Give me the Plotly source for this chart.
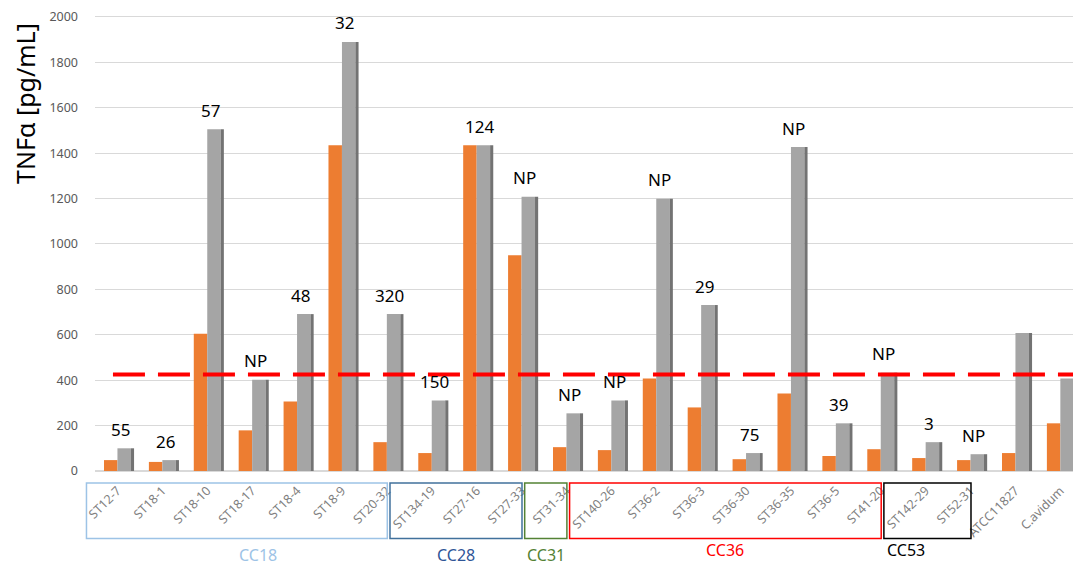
import plotly.graph_objects as go

# ---------------- data ----------------
categories = ["ST12-7", "ST18-1", "ST18-10", "ST18-17", "ST18-4", "ST18-9", "ST20-32",
              "ST134-19", "ST27-16", "ST27-33", "ST31-34", "ST140-26", "ST36-2", "ST36-3",
              "ST36-30", "ST36-35", "ST36-5", "ST41-20", "ST142-29", "ST52-31",
              "ATCC11827", "C.avidum"]
orange_values = [48, 40, 604, 179, 306, 1435, 127, 79, 1435, 950, 105, 92, 407, 280,
                 52, 341, 66, 96, 57, 48, 79, 210]
gray_values = [100, 48, 1505, 402, 691, 1890, 691, 311, 1435, 1208, 254, 311, 1199, 731,
               79, 1427, 210, 433, 127, 74, 608, 407]
bar_labels = ["55", "26", "57", "NP", "48", "32", "320", "150", "124", "NP", "NP", "NP",
              "NP", "29", "75", "NP", "39", "NP", "3", "NP", "", ""]
threshold = 425
y_ticks = [0, 200, 400, 600, 800, 1000, 1200, 1400, 1600, 1800, 2000]
groups = [  # name, first category, last category, colour
    ("CC18", "ST12-7", "ST20-32", "#9dc3e6"),
    ("CC28", "ST134-19", "ST27-33", "#41719c"),
    ("CC31", "ST31-34", "ST31-34", "#548235"),
    ("CC36", "ST140-26", "ST41-20", "#ff0000"),
    ("CC53", "ST142-29", "ST52-31", "#000000"),
]
group_text_colors = ["#9dc3e6", "#2f5597", "#548235", "#ff0000", "#000000"]

FONT = "Noto Sans"
idx = list(range(len(categories)))
X_RANGE = [-0.5, 21.46]


def to_paper(xv):
    return (xv - X_RANGE[0]) / (X_RANGE[1] - X_RANGE[0])


fig = go.Figure()
fig.add_trace(go.Bar(x=idx, y=orange_values, offset=-0.3, width=0.3,
                     marker=dict(color="#ed7d31", line=dict(width=0)), showlegend=False))
fig.add_trace(go.Bar(x=idx, y=gray_values, offset=0.0, width=0.3,
                     marker=dict(color="#a5a5a5", line=dict(width=0)), showlegend=False))
# side face of the grey columns (pseudo 3D)
fig.add_trace(go.Bar(x=idx, y=gray_values, offset=0.3, width=0.07,
                     marker=dict(color="#737373", line=dict(width=0)), showlegend=False))

# value labels
for i, t in enumerate(bar_labels):
    if t:
        fig.add_annotation(x=i, y=gray_values[i], text=t, showarrow=False,
                           yanchor="middle", yshift=19, xshift=3,
                           font=dict(family=FONT, size=17, color="#000000"))

# threshold dashed line
fig.add_shape(type="line", xref="x", yref="y", x0=-0.1, x1=21.5,
              y0=threshold, y1=threshold,
              line=dict(color="#ff0000", width=4, dash="32px,13px"), layer="above")

# group boxes and labels
for (name, first, last, col), tcol in zip(groups, group_text_colors):
    a = categories.index(first)
    b = categories.index(last)
    x0 = max(a - 0.93, -0.69)
    fig.add_shape(type="rect", xref="paper", yref="paper",
                  x0=to_paper(x0), x1=to_paper(b + 0.01),
                  y0=-0.147, y1=-0.026, line=dict(color=col, width=1.5),
                  fillcolor="rgba(0,0,0,0)")
    ty = -0.182 if name in ("CC18", "CC28", "CC31") else -0.172
    fig.add_annotation(xref="paper", yref="paper", x=to_paper((x0 + b) / 2), y=ty,
                       text=name, showarrow=False,
                       font=dict(family=FONT, size=16, color=tcol), yanchor="middle")

# y-axis title
fig.add_annotation(xref="paper", yref="paper", x=-0.071, y=0.80, text="TNFα [pg/mL]",
                   textangle=-90, showarrow=False, xanchor="center", yanchor="middle",
                   font=dict(family=FONT, size=25, color="#000000"))

fig.update_layout(
    width=1073, height=559,
    margin=dict(l=87, r=0, t=0, b=96),
    paper_bgcolor="white", plot_bgcolor="white",
    barmode="overlay",
    xaxis=dict(range=X_RANGE, tickmode="array", tickvals=idx, ticktext=categories,
               tickangle=-45, tickfont=dict(family=FONT, size=12.5, color="#7f7f7f"),
               showgrid=False, showline=False, zeroline=False, ticks="",
               ticklabelstandoff=9, ticklabeloverflow="allow"),
    yaxis=dict(range=[0, 2026], tickmode="array", tickvals=y_ticks,
               tickfont=dict(family=FONT, size=12.5, color="#595959"),
               showgrid=True, gridcolor="#d9d9d9", gridwidth=1,
               zeroline=True, zerolinecolor="#d9d9d9", showline=False,
               ticks="", ticklabelstandoff=16, ticklabeloverflow="allow"),
)

fig.write_html("out.html")
